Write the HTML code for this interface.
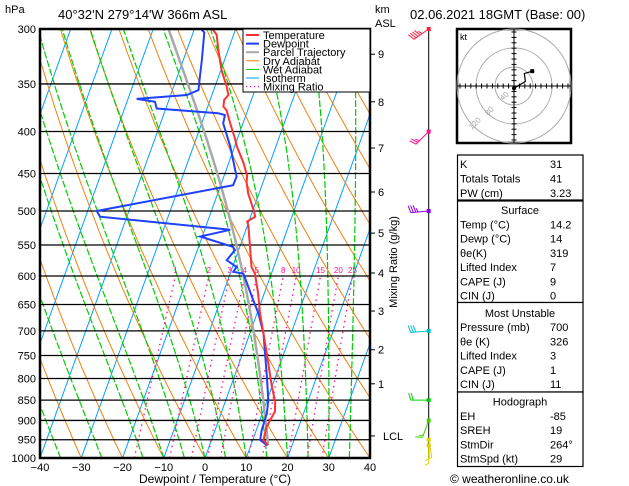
<!DOCTYPE html>
<html><head><meta charset="utf-8">
<style>
html,body{margin:0;padding:0;background:#fff;}
svg{display:block;font-family:"Liberation Sans",sans-serif;}
</style></head>
<body>
<svg id="chart" width="629" height="486" viewBox="0 0 629 486" xmlns="http://www.w3.org/2000/svg">
<defs><clipPath id="pc"><rect x="40" y="29" width="330" height="429"/></clipPath></defs>
<g id="grid" clip-path="url(#pc)"></g>
<g id="series" clip-path="url(#pc)"></g>
<g id="axes"></g>
<g id="winds"></g>
<g id="hodo"></g>
<g id="tables"></g>
</svg>
<script>
// ---- data ----
const isobars = [300,350,400,450,500,550,600,650,700,750,800,850,900,950,1000];
const tempTicks = [-40,-30,-20,-10,0,10,20,30,40];
const tempP = [965,951,916,878,854,819,745,702,666,630,596,585,550,522,515,508,499,476,461,453,437,417,408,391,377,373,366,361,353,337,318,305,300];
const tempT = [14.2,12.6,12.2,12.9,12.1,10.0,5.8,3.1,0.7,-1.5,-4.0,-5.4,-7.7,-9.7,-10.4,-8.9,-9.8,-12.6,-14.0,-14.4,-16.4,-19.5,-20.6,-23.1,-25.1,-26.2,-26.6,-26.0,-27.1,-29.8,-32.4,-34.1,-35.6];
const dewP = [965,951,924,882,850,796,739,705,666,642,612,596,593,585,574,558,553,537,527,508,500,465,454,417,391,382,380,375,368,365,361,356,343,327,303,300];
const dewT = [14.0,11.8,11.3,11.1,10.3,7.9,5.1,3.3,0.3,-2.1,-5.1,-6.8,-9.4,-9.0,-12.0,-10.9,-11.6,-20.5,-13.8,-46.5,-47.8,-17.0,-16.9,-21.1,-24.8,-25.1,-26.9,-42.2,-43.2,-47.9,-36.1,-33.7,-34.5,-35.5,-37.3,-38.4];
const mixRatios = [1,2,3,4,5,8,10,15,20,25];
const wetThetas = [-35,-25,-15,-10,-5,0,5,10,15,20,25,30,35,40];
const kmLabels = ['9','8','7','6','5','4','3','2','1','LCL'];
const kmP = [322,368,419,474,532,595,662,738,812,940];
const windP = [300,400,500,700,850,900,950,965];
const windDir = [235,225,265,265,270,200,170,180];
const windSpd = [45,25,35,30,20,15,10,5];
const windColor = ['#ff2040','#ff1090','#9000e0','#00c0d0','#00d000','#40d000','#e0d000','#e0d000'];
const hodoU = [0,5,10,9,16];
const hodoV = [-2,1,4,11,13];
const surfaceLabels = ['Temp (°C)','Dewp (°C)','θe(K)','Lifted Index','CAPE (J)','CIN (J)'];
const surfaceValues = ['14.2','14','319','7','9','0'];
const muLabels = ['Pressure (mb)','θe (K)','Lifted Index','CAPE (J)','CIN (J)'];
const muValues = ['700','326','3','1','11'];
const hodoLabels = ['EH','SREH','StmDir','StmSpd (kt)'];
const hodoValues = ['-85','19','264°','29'];

// ---- axis functions ----
const NS='http://www.w3.org/2000/svg';
const LN=Math.log(1000/300);
function yP(p){return 29+Math.log(p/300)/LN*429;}
function xT(T,p){return 40+(T+40)*4.125+0.36*(458-yP(p));}
function mk(tag,attrs,parent,txt){const e=document.createElementNS(NS,tag);for(const k in attrs)e.setAttribute(k,attrs[k]);if(txt!==undefined)e.textContent=txt;parent.appendChild(e);return e;}
function pts(arr){return arr.map(a=>a[0].toFixed(1)+','+a[1].toFixed(1)).join(' ');}
const G=document.getElementById('grid'),S=document.getElementById('series'),A=document.getElementById('axes'),W=document.getElementById('winds'),H=document.getElementById('hodo'),TB=document.getElementById('tables');

// isotherms
for(let T=-130;T<=40;T+=10){
  const l=mk('line',{x1:xT(T,1000),y1:yP(1000),x2:xT(T,300),y2:yP(300),stroke:'#00a0ff','stroke-width':1},G);
  
  
}
// dry adiabats
for(let th=-40;th<=200;th+=10){
  const a=[];for(let p=1000;p>=300;p-=10){a.push([xT((th+273.15)*Math.pow(p/1000,0.286)-273.15,p),yP(p)]);}
  const l=mk('polyline',{points:pts(a),fill:'none',stroke:'#f08010','stroke-width':1},G);
  
  
}
// moist adiabat integrator
function es(Tc){return 6.112*Math.exp(17.67*Tc/(Tc+243.5));}
function moist(T0,p0,pEnd){
  let T=T0+273.15;const out=[];
  for(let p=p0;p>=pEnd-0.01;p-=5){
    out.push([T-273.15,p]);
    const e=es(T-273.15),rs=0.622*e/(p-e);
    const d=(287*T+2.5e6*rs)/(p*(1004+2.5e6*2.5e6*rs*0.622/(287*T*T)));
    T-=d*5;
  }
  return out;
}
wetThetas.forEach(tw=>{
  const a=moist(tw,1000,300).map(v=>[xT(v[0],v[1]),yP(v[1])]);
  const l=mk('polyline',{points:pts(a),fill:'none',stroke:'#00cc00','stroke-width':1.2,'stroke-dasharray':'7,2'},G);
  
  
});
// mixing ratio
function tdW(w,p){const e=w/1000*p/(0.622+w/1000);const L=Math.log(e/6.112);return 243.5*L/(17.67-L);}
mixRatios.forEach(w=>{
  const a=[];for(let p=1000;p>=600;p-=10)a.push([xT(tdW(w,p),p),yP(p)]);
  const l=mk('polyline',{points:pts(a),fill:'none',stroke:'#ff1090','stroke-width':1.3,'stroke-dasharray':'1.5,4'},G);
  
  
  const t=mk('text',{x:xT(tdW(w,600),600),y:273,'font-size':8,fill:'#ff1090','text-anchor':'middle'},A,String(w));
  
  
});
// isobars
isobars.forEach(p=>{
  const l=mk('line',{x1:40,x2:370,y1:yP(p),y2:yP(p),stroke:'#000','stroke-width':1.3},G);
  
  
  const t=mk('text',{x:36,y:yP(p)+4,'font-size':11,'text-anchor':'end'},A,String(p));
  
  
});
// series
const parcel=moist(tempT[0],tempP[0],300).map(v=>[xT(v[0],v[1]),yP(v[1])]);
let e=mk('polyline',{points:pts(parcel),fill:'none',stroke:'#a8a8a8','stroke-width':2.5},S);


e=mk('polyline',{points:pts(dewP.map((p,i)=>[xT(dewT[i],p),yP(p)])),fill:'none',stroke:'#2040ff','stroke-width':2},S);


e=mk('polyline',{points:pts(tempP.map((p,i)=>[xT(tempT[i],p),yP(p)])),fill:'none',stroke:'#ff3030','stroke-width':2},S);



// frame
e=mk('rect',{x:40,y:29,width:330,height:429,fill:'none',stroke:'#000','stroke-width':2.5},A);


tempTicks.forEach(T=>{
  const t=mk('text',{x:xT(T,1000),y:471,'font-size':11,'text-anchor':'middle'},A,T<0?'−'+(-T):String(T));
  
  
});
e=mk('text',{x:215,y:483,'font-size':12,'text-anchor':'middle'},A,'Dewpoint / Temperature (°C)');


e=mk('text',{x:5,y:13,'font-size':11},A,'hPa');


e=mk('text',{x:58,y:19,'font-size':13},A,"40°32'N  279°14'W  366m  ASL");


e=mk('text',{x:375,y:13,'font-size':11},A,'km');


e=mk('text',{x:375,y:27,'font-size':11},A,'ASL');


e=mk('text',{x:410,y:19,'font-size':13},A,'02.06.2021  18GMT  (Base: 00)');


kmLabels.forEach((k,i)=>{
  const y=yP(kmP[i]);
  mk('line',{x1:370,x2:375,y1:y,y2:y,stroke:'#000'},A);
  const t=mk('text',{x:k==='LCL'?383:378,y:y+4,'font-size':11},A,k);
  
  
});
e=mk('text',{x:0,y:0,'font-size':11,transform:'translate(397,262) rotate(-90)','text-anchor':'middle'},A,'Mixing Ratio (g/kg)');



// legend
const leg=mk('g',{},A);


mk('rect',{x:243,y:29,width:127,height:63,fill:'#fff',stroke:'#000','stroke-width':1},leg);
const legItems=[['Temperature','#ff3030',2,''],['Dewpoint','#2040ff',2,''],['Parcel Trajectory','#a8a8a8',2,''],['Dry Adiabat','#f08010',1,''],['Wet Adiabat','#00cc00',1,''],['Isotherm','#00a0ff',1,''],['Mixing Ratio','#ff1090',1.2,'1,3']];
legItems.forEach((it,i)=>{
  const y=35+i*8.6;
  const l=mk('line',{x1:246,x2:259,y1:y,y2:y,stroke:it[1],'stroke-width':it[2],'stroke-dasharray':it[3]||'none'},leg);
  
  
  const t=mk('text',{x:263,y:y+4,'font-size':11},leg,it[0]);
  
  
});

// wind barbs
mk('line',{x1:428.7,x2:428.7,y1:29,y2:458,stroke:'#000','stroke-width':1},W);
windP.forEach((p,i)=>{
  const x0=428.7,y0=yP(p),d=windDir[i]*Math.PI/180,L=18;
  const ux=Math.sin(d),uy=-Math.cos(d);
  const x1=x0+ux*L,y1=y0+uy*L;
  const g=mk('g',{stroke:windColor[i],fill:windColor[i],'stroke-width':1},W);
  
  
  mk('line',{x1:x0,y1:y0,x2:x1,y2:y1},g);
  mk('rect',{x:x0-2,y:y0-2,width:4,height:4,stroke:'none'},g);
  let s=windSpd[i],k=0;
  const px=-uy,py=ux;
  while(s>=5){
    const bx=x1-ux*k*2.5,by=y1-uy*k*2.5;
    const len=s>=10?7:4;
    mk('line',{x1:bx,y1:by,x2:bx+px*len+ux*2,y2:by+py*len+uy*2},g);
    s-=s>=10?10:5;k++;
  }
});

// hodograph
mk('rect',{x:457,y:29,width:114,height:114,fill:'#fff',stroke:'#000','stroke-width':2.5},H);
const hc=[514,86];
[19,38,57].forEach(r=>mk('circle',{cx:hc[0],cy:hc[1],r:r,fill:'none',stroke:'#aaa','stroke-width':1},H));
mk('line',{x1:457,x2:571,y1:hc[1],y2:hc[1],stroke:'#000'},H);
mk('line',{x1:hc[0],x2:hc[0],y1:29,y2:143,stroke:'#000'},H);
for(let k=-10;k<=10;k++){if(!k)continue;const o=k*5.4;
  mk('line',{x1:hc[0]+o,x2:hc[0]+o,y1:hc[1]-2.5,y2:hc[1]+2.5,stroke:'#000'},H);
  mk('line',{y1:hc[1]+o,y2:hc[1]+o,x1:hc[0]-2.5,x2:hc[0]+2.5,stroke:'#000'},H);}
e=mk('text',{x:460,y:40,'font-size':9},H,'kt');


[['40',503,101],['80',488,116],['120',472,130]].forEach(t=>mk('text',{x:t[1],y:t[2],'font-size':8,fill:'#aaa',transform:'rotate(-45 '+t[1]+' '+t[2]+')'},H,t[0]));
const hs=1.14;
e=mk('polyline',{points:pts(hodoU.map((u,i)=>[hc[0]+u*hs,hc[1]-hodoV[i]*hs])),fill:'none',stroke:'#000','stroke-width':1.2},H);


mk('rect',{x:hc[0]+hodoU[hodoU.length-1]*hs-2,y:hc[1]-hodoV[hodoV.length-1]*hs-2,width:4,height:4},H);
mk('circle',{cx:hc[0]+hodoU[0]*hs,cy:hc[1]-hodoV[0]*hs,r:2},H);

// tables
function box(y1,y2,name){const r=mk('rect',{x:457.5,y:y1,width:125.5,height:y2-y1,fill:'#fff',stroke:'#000','stroke-width':1.2},TB);}
function row(lbl,val,y){mk('text',{x:460,y:y+4,'font-size':11},TB,lbl);mk('text',{x:550,y:y+4,'font-size':11},TB,val);}
function head(t,y){mk('text',{x:520,y:y+4,'font-size':11,'text-anchor':'middle'},TB,t);}
box(155,200,'stability-indices-box');
row('K','31',164);row('Totals Totals','41',178.5);row('PW (cm)','3.23',193);
box(201,302.5,'surface-box');head('Surface',210);
surfaceLabels.forEach((l,i)=>row(l,surfaceValues[i],224.5+i*14.2));
box(302.5,392,'most-unstable-box');head('Most Unstable',313);
muLabels.forEach((l,i)=>row(l,muValues[i],327+i*14.3));
box(392,466.5,'hodograph-box');head('Hodograph',401.5);
hodoLabels.forEach((l,i)=>row(l,hodoValues[i],416+i*14.2));
e=mk('text',{x:450,y:483,'font-size':12},TB,'© weatheronline.co.uk');


</script>
</body></html>
